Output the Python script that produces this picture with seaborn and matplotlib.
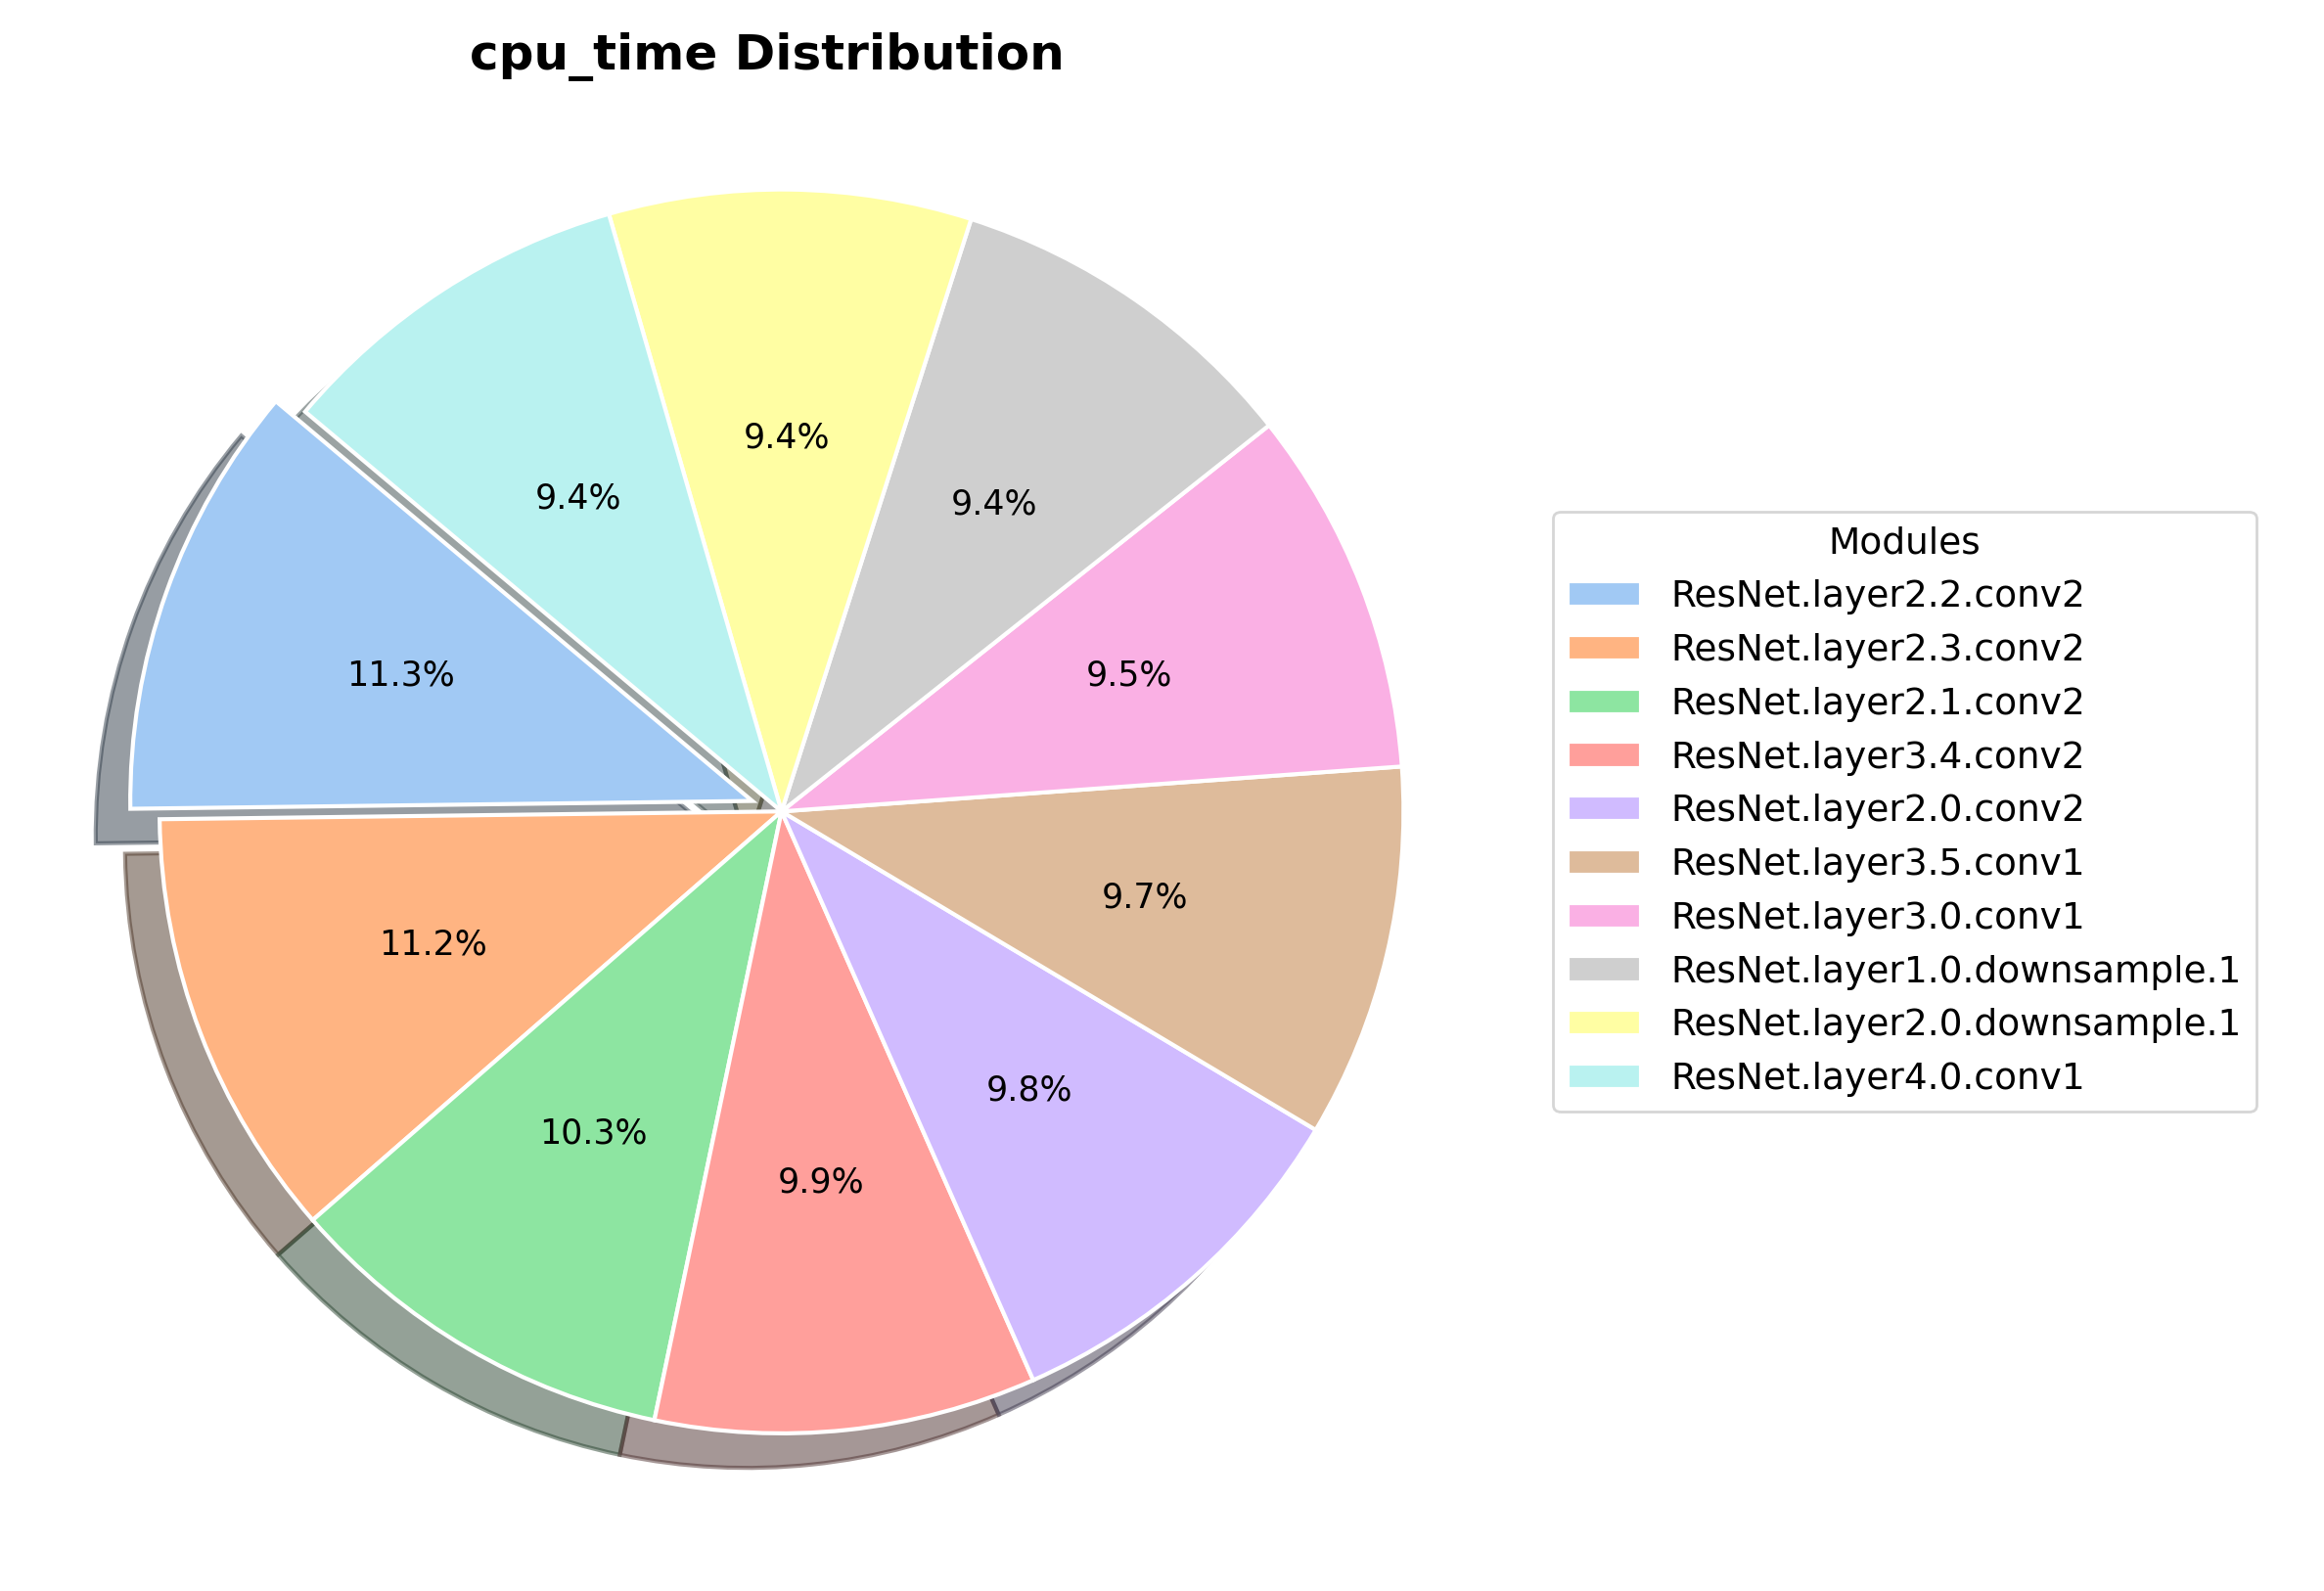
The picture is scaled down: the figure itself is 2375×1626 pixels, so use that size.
import matplotlib
matplotlib.use("Agg")
import matplotlib.pyplot as plt
import seaborn as sns

modules = [
    "ResNet.layer2.2.conv2",
    "ResNet.layer2.3.conv2",
    "ResNet.layer2.1.conv2",
    "ResNet.layer3.4.conv2",
    "ResNet.layer2.0.conv2",
    "ResNet.layer3.5.conv1",
    "ResNet.layer3.0.conv1",
    "ResNet.layer1.0.downsample.1",
    "ResNet.layer2.0.downsample.1",
    "ResNet.layer4.0.conv1",
]
cpu_time = [11.3, 11.2, 10.3, 9.9, 9.8, 9.7, 9.5, 9.4, 9.4, 9.4]
explode = [0.05] + [0] * (len(cpu_time) - 1)

colors = sns.color_palette("pastel", len(cpu_time))

fig, ax = plt.subplots(figsize=(11.875, 8.13), dpi=200)
wedges, texts, autotexts = ax.pie(
    cpu_time, explode=explode, colors=colors, autopct="%1.1f%%",
    startangle=140, shadow=True,
    wedgeprops=dict(edgecolor="white", linewidth=1.5),
    textprops=dict(fontsize=12.5),
)
ax.axis("equal")
ax.set_title("cpu_time Distribution", fontsize=18, fontweight="bold", y=1.03)
ax.legend(wedges, modules, title="Modules", loc="center left",
          bbox_to_anchor=(1.06, 0.5), fontsize=13.5, title_fontsize=13.5)
fig.subplots_adjust(left=0.035, right=0.625, top=0.92, bottom=0.06)
fig.savefig("out.png", dpi=200)
